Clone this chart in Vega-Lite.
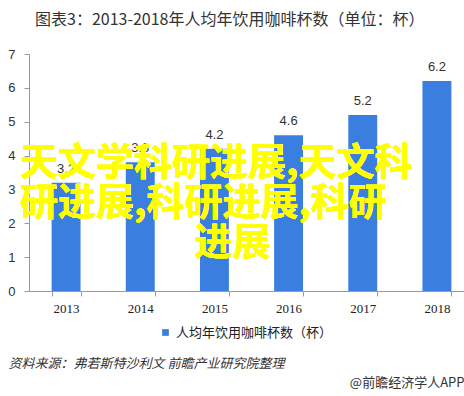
{
  "$schema": "https://vega.github.io/schema/vega-lite/v6.json",
  "autosize": "none",
  "width": 435,
  "height": 237,
  "padding": {"left": 29, "top": 54, "right": 0, "bottom": 105},
  "background": "white",
  "title": {
    "text": "图表3：2013-2018年人均年饮用咖啡杯数（单位：杯）",
    "anchor": "start",
    "frame": "group",
    "dx": 6,
    "offset": 20,
    "font": "Noto Sans CJK SC",
    "fontSize": 16,
    "fontWeight": "normal",
    "color": "#333333"
  },
  "data": {
    "values": [
      {"year": "2013", "cups": 3.2, "series": "人均年饮用咖啡杯数（杯）"},
      {"year": "2014", "cups": 3.8, "series": "人均年饮用咖啡杯数（杯）"},
      {"year": "2015", "cups": 4.2, "series": "人均年饮用咖啡杯数（杯）"},
      {"year": "2016", "cups": 4.6, "series": "人均年饮用咖啡杯数（杯）"},
      {"year": "2017", "cups": 5.2, "series": "人均年饮用咖啡杯数（杯）"},
      {"year": "2018", "cups": 6.2, "series": "人均年饮用咖啡杯数（杯）"}
    ]
  },
  "encoding": {
    "x": {
      "field": "year",
      "type": "ordinal",
      "scale": {"range": [0, 445], "paddingInner": 0.61, "paddingOuter": 0.305},
      "axis": {
        "title": "资料来源：弗若斯特沙利文 前瞻产业研究院整理",
        "titleX": -21,
        "titleY": 72,
        "titleAlign": "left",
        "titleBaseline": "middle",
        "titleAnchor": null,
        "titleFont": "Noto Sans CJK SC",
        "titleFontSize": 13,
        "titleFontStyle": "italic",
        "titleFontWeight": "normal",
        "titleColor": "#333333",
        "labelAngle": 0,
        "labelFont": "Liberation Serif",
        "labelFontSize": 13,
        "labelColor": "#222222",
        "labelPadding": 6,
        "domainColor": "#999999",
        "tickColor": "#999999",
        "tickSize": 5,
        "tickBand": "extent",
        "grid": false
      }
    },
    "y": {
      "field": "cups",
      "type": "quantitative",
      "scale": {"domain": [0, 7], "nice": false},
      "axis": {
        "values": [0, 1, 2, 3, 4, 5, 6, 7],
        "title": "@前瞻经济学人APP",
        "titleAngle": 0,
        "titleX": 435,
        "titleY": 328,
        "titleAlign": "right",
        "titleBaseline": "middle",
        "titleAnchor": null,
        "titleFont": "Noto Sans CJK SC",
        "titleFontSize": 13,
        "titleFontWeight": "normal",
        "titleColor": "#333333",
        "labelFont": "Liberation Sans",
        "labelFontSize": 13,
        "labelColor": "#333333",
        "labelPadding": 9,
        "domainColor": "#999999",
        "tickColor": "#999999",
        "tickSize": 5,
        "grid": false
      }
    }
  },
  "layer": [
    {
      "mark": {"type": "bar", "color": "#3A7FE0"},
      "encoding": {
        "color": {
          "field": "series",
          "type": "nominal",
          "scale": {"range": ["#3A7FE0"]},
          "legend": {
            "orient": "none",
            "legendX": 130,
            "legendY": 272,
            "title": null,
            "symbolType": "square",
            "symbolSize": 45,
            "labelFont": "Noto Sans CJK SC",
            "labelFontSize": 13,
            "labelColor": "#222222",
            "labelOffset": 4
          }
        }
      }
    },
    {
      "mark": {
        "type": "text",
        "baseline": "bottom",
        "dy": -7,
        "font": "Liberation Sans",
        "fontSize": 13,
        "color": "#333333"
      },
      "encoding": {"text": {"field": "cups", "type": "quantitative", "format": ".1f"}}
    },
    {
      "mark": {
        "type": "text",
        "text": "天文学科研进展,天文科",
        "align": "left",
        "baseline": "middle",
        "dx": -46,
        "font": "Noto Sans CJK SC",
        "fontWeight": "bold",
        "fontSize": 38,
        "color": "#FFFF00"
      },
      "encoding": {"x": {"datum": "2013"}, "y": {"datum": 3.75}}
    },
    {
      "mark": {
        "type": "text",
        "text": "研进展,科研进展,科研",
        "align": "left",
        "baseline": "middle",
        "dx": -46,
        "font": "Noto Sans CJK SC",
        "fontWeight": "bold",
        "fontSize": 38,
        "color": "#FFFF00"
      },
      "encoding": {"x": {"datum": "2013"}, "y": {"datum": 2.57}}
    },
    {
      "mark": {
        "type": "text",
        "text": "进展",
        "align": "center",
        "baseline": "middle",
        "dx": 18,
        "font": "Noto Sans CJK SC",
        "fontWeight": "bold",
        "fontSize": 38,
        "color": "#FFFF00"
      },
      "encoding": {"x": {"datum": "2015"}, "y": {"datum": 1.39}}
    }
  ],
  "config": {"view": {"stroke": null}}
}
